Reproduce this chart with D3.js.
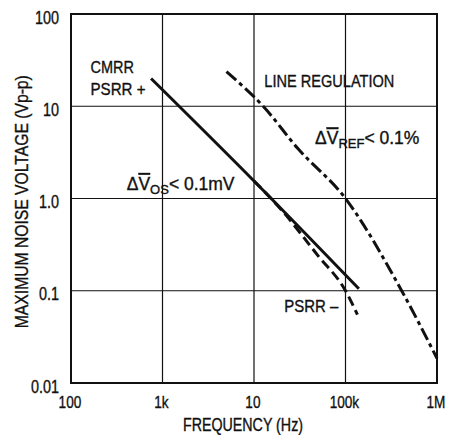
<!DOCTYPE html>
<html>
<head>
<meta charset="utf-8">
<script src="https://cdn.jsdelivr.net/npm/d3@7/dist/d3.min.js"></script>
<style>
  html, body { margin: 0; padding: 0; background: #fff; }
  svg { display: block; }
  text { font-family: "Liberation Sans", Arial, Helvetica, sans-serif; fill: #111; stroke: #111; stroke-width: 0.35px; }
</style>
</head>
<body>
<svg id="chart" width="449" height="435"></svg>
<script>
// ---- data ----
const xTickValues = [100, 1000, 10000, 100000, 1000000];
const xTickLabels = ["100", "1k", "10", "100k", "1M"];
const yTickValues = [0.01, 0.1, 1, 10, 100];
const yTickLabels = ["0.01", "0.1", "1.0", "10", "100"];

const cmrrFreq = [750, 10000, 140000];
const cmrrVolt = [20, 1.55, 0.105];

const psrrMinusFreq = [10000, 20000, 50000, 100000, 135000];
const psrrMinusVolt = [1.55, 0.75, 0.24, 0.1, 0.055];

const lineRegFreq = [5000, 12600, 30000, 100000, 411000, 1000000];
const lineRegVolt = [23.7, 10, 3.5, 1.0, 0.1, 0.0185];

// ---- layout ----
const svg = d3.select("#chart");
const x = d3.scaleLog().domain([100, 1e6]).range([71, 437]);
const y = d3.scaleLog().domain([0.01, 100]).range([383, 14]);

// grid
const grid = svg.append("g").attr("stroke", "#111").attr("stroke-width", 1.2);
grid.selectAll("line.v").data(xTickValues.slice(1, -1)).join("line")
  .attr("x1", d => x(d)).attr("x2", d => x(d)).attr("y1", y(100)).attr("y2", y(0.01));
grid.selectAll("line.h").data(yTickValues.slice(1, -1)).join("line")
  .attr("y1", d => y(d)).attr("y2", d => y(d)).attr("x1", x(100)).attr("x2", x(1e6));

// frame
svg.append("rect")
  .attr("x", x(100)).attr("y", y(100))
  .attr("width", x(1e6) - x(100)).attr("height", y(0.01) - y(100))
  .attr("fill", "none").attr("stroke", "#111").attr("stroke-width", 2);

// axes via d3 (labels only)
const xAxis = d3.axisBottom(x).tickValues(xTickValues).tickSize(0)
  .tickFormat((d, i) => xTickLabels[i]);
const gx = svg.append("g").attr("transform", `translate(0,${y(0.01)})`).call(xAxis);
gx.select(".domain").remove();
gx.selectAll("text").attr("dy", null).attr("x", -2).attr("y", 25.5).attr("font-size", 17)
  .attr("font-family", null).attr("fill", "#111")
  .attr("transform", "scale(0.8,1)");

const yAxis = d3.axisLeft(y).tickValues(yTickValues).tickSize(0)
  .tickFormat((d, i) => yTickLabels[i]);
const gy = svg.append("g").attr("transform", `translate(${x(100)},0)`).call(yAxis);
gy.select(".domain").remove();
gy.selectAll("text").attr("dy", null).attr("x", -15).attr("y", 9).attr("font-size", 18)
  .attr("font-family", null).attr("fill", "#111")
  .attr("transform", "scale(0.8,1)");

// axis titles
svg.append("text").attr("x", 243).attr("y", 431).attr("text-anchor", "middle")
  .attr("font-size", 17.5).attr("textLength", 120).attr("lengthAdjust", "spacingAndGlyphs")
  .text("FREQUENCY (Hz)");
svg.append("text").attr("transform", "translate(28,201.7) rotate(-90)")
  .attr("text-anchor", "middle").attr("font-size", 17.5)
  .attr("textLength", 253).attr("lengthAdjust", "spacingAndGlyphs")
  .text("MAXIMUM NOISE VOLTAGE (Vp-p)");

// curves
const line = d3.line().x(d => x(d[0])).y(d => y(d[1])).curve(d3.curveMonotoneX);
const zip = (a, b) => a.map((v, i) => [v, b[i]]);

svg.append("path").datum(zip(lineRegFreq, lineRegVolt))
  .attr("d", line).attr("fill", "none").attr("stroke", "#111")
  .attr("stroke-width", 3).attr("stroke-dasharray", "13,4,4,4");

svg.append("path").datum(zip(psrrMinusFreq, psrrMinusVolt))
  .attr("d", line).attr("fill", "none").attr("stroke", "#111")
  .attr("stroke-width", 3).attr("stroke-dasharray", "10,5");

svg.append("path").datum(zip(cmrrFreq, cmrrVolt))
  .attr("d", line).attr("fill", "none").attr("stroke", "#111")
  .attr("stroke-width", 3);

// annotations
function label(xp, yp, txt, w) {
  svg.append("text").attr("x", xp).attr("y", yp).attr("font-size", 17)
    .attr("textLength", w).attr("lengthAdjust", "spacingAndGlyphs").text(txt);
}
label(90.5, 72.7, "CMRR", 43.5);
label(90.5, 95, "PSRR +", 55);
label(264.3, 87.3, "LINE REGULATION", 130);
label(284.3, 312.3, "PSRR \u2013", 54);

function deltaLabel(xp, yp, sub, rest) {
  const t = svg.append("text").attr("font-size", 17.5)
    .attr("transform", `translate(${xp},${yp})`);
  t.append("tspan").text("\u0394");
  t.append("tspan").style("text-decoration", "overline").text("V");
  t.append("tspan").attr("font-size", 13).attr("dy", 4).text(sub);
  t.append("tspan").attr("dy", -4).text("< " + rest);
}
deltaLabel(126.7, 190, "OS", "0.1mV");
deltaLabel(315, 144.3, "REF", "0.1%");
</script>
</body>
</html>
